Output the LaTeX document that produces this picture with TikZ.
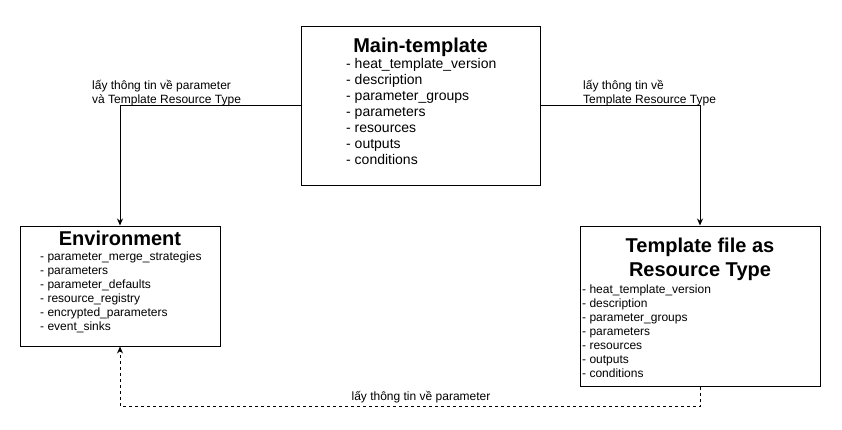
\documentclass[tikz,border=0pt]{standalone}
\usepackage{fontspec}
\setmainfont{Liberation Sans}
\usetikzlibrary{arrows.meta}
\begin{document}
\begin{tikzpicture}[x=1pt,y=-1pt,
  box/.style={draw=black,line width=1pt,fill=white,inner sep=0pt},
  ttl/.style={anchor=base,inner sep=0pt,font=\bfseries\fontsize{20}{24}\selectfont},
  bigitem/.style={anchor=base west,inner sep=0pt,font=\fontsize{14}{16}\selectfont},
  item/.style={anchor=base west,inner sep=0pt,font=\fontsize{12}{14}\selectfont},
  lbl/.style={anchor=base west,inner sep=0pt,font=\fontsize{12}{14}\selectfont},
  conn/.style={line width=1pt,-{Stealth[length=7pt,width=6pt]}},
  dconn/.style={conn,dash pattern=on 3pt off 3pt}]
\useasboundingbox[fill=white] (0,0) rectangle (842,429);

% boxes
\node[box,minimum width=239pt,minimum height=159pt] (main) at (420.5,105.5) {};
\node[box,minimum width=200pt,minimum height=120pt] (env) at (120,286) {};
\node[box,minimum width=240pt,minimum height=160pt] (tmpl) at (700,306) {};

% main-template text
\node[ttl] (mt) at (420.5,52) {Main-template};
\foreach \t [count=\i] in {heat\_template\_version,description,parameter\_groups,parameters,resources,outputs,conditions}
  \node[bigitem] (m\i) at (346,52+16*\i) {- \t};

% environment text
\node[ttl] (et) at (120,245) {Environment};
\foreach \t [count=\i] in {parameter\_merge\_strategies,parameters,parameter\_defaults,resource\_registry,encrypted\_parameters,event\_sinks}
  \node[item] (e\i) at (40,246+14*\i) {- \t};

% template text
\node[ttl] (tt1) at (700,252) {Template file as};
\node[ttl] (tt2) at (700,276) {Resource Type};
\foreach \t [count=\i] in {heat\_template\_version,description,parameter\_groups,parameters,resources,outputs,conditions}
  \node[item] (t\i) at (582,279+14*\i) {- \t};

% connectors
\draw[conn] (main.west) -| (env.north);
\draw[conn] (main.east) -| (tmpl.north);
\coordinate (d1) at (700,406);
\draw[dconn] (tmpl.south) -- (d1) -| (env.south);

% labels
\node[lbl] (l1) at (92,89) {lấy thông tin về parameter};
\node[lbl] (l2) at (92,103) {và Template Resource Type};
\node[lbl] (r1) at (583,89) {lấy thông tin về};
\node[lbl] (r2) at (583,103) {Template Resource Type};
\node[anchor=base,inner sep=0pt,font=\fontsize{12}{14}\selectfont] (b1) at (421,400) {lấy thông tin về parameter};
\end{tikzpicture}
\end{document}
